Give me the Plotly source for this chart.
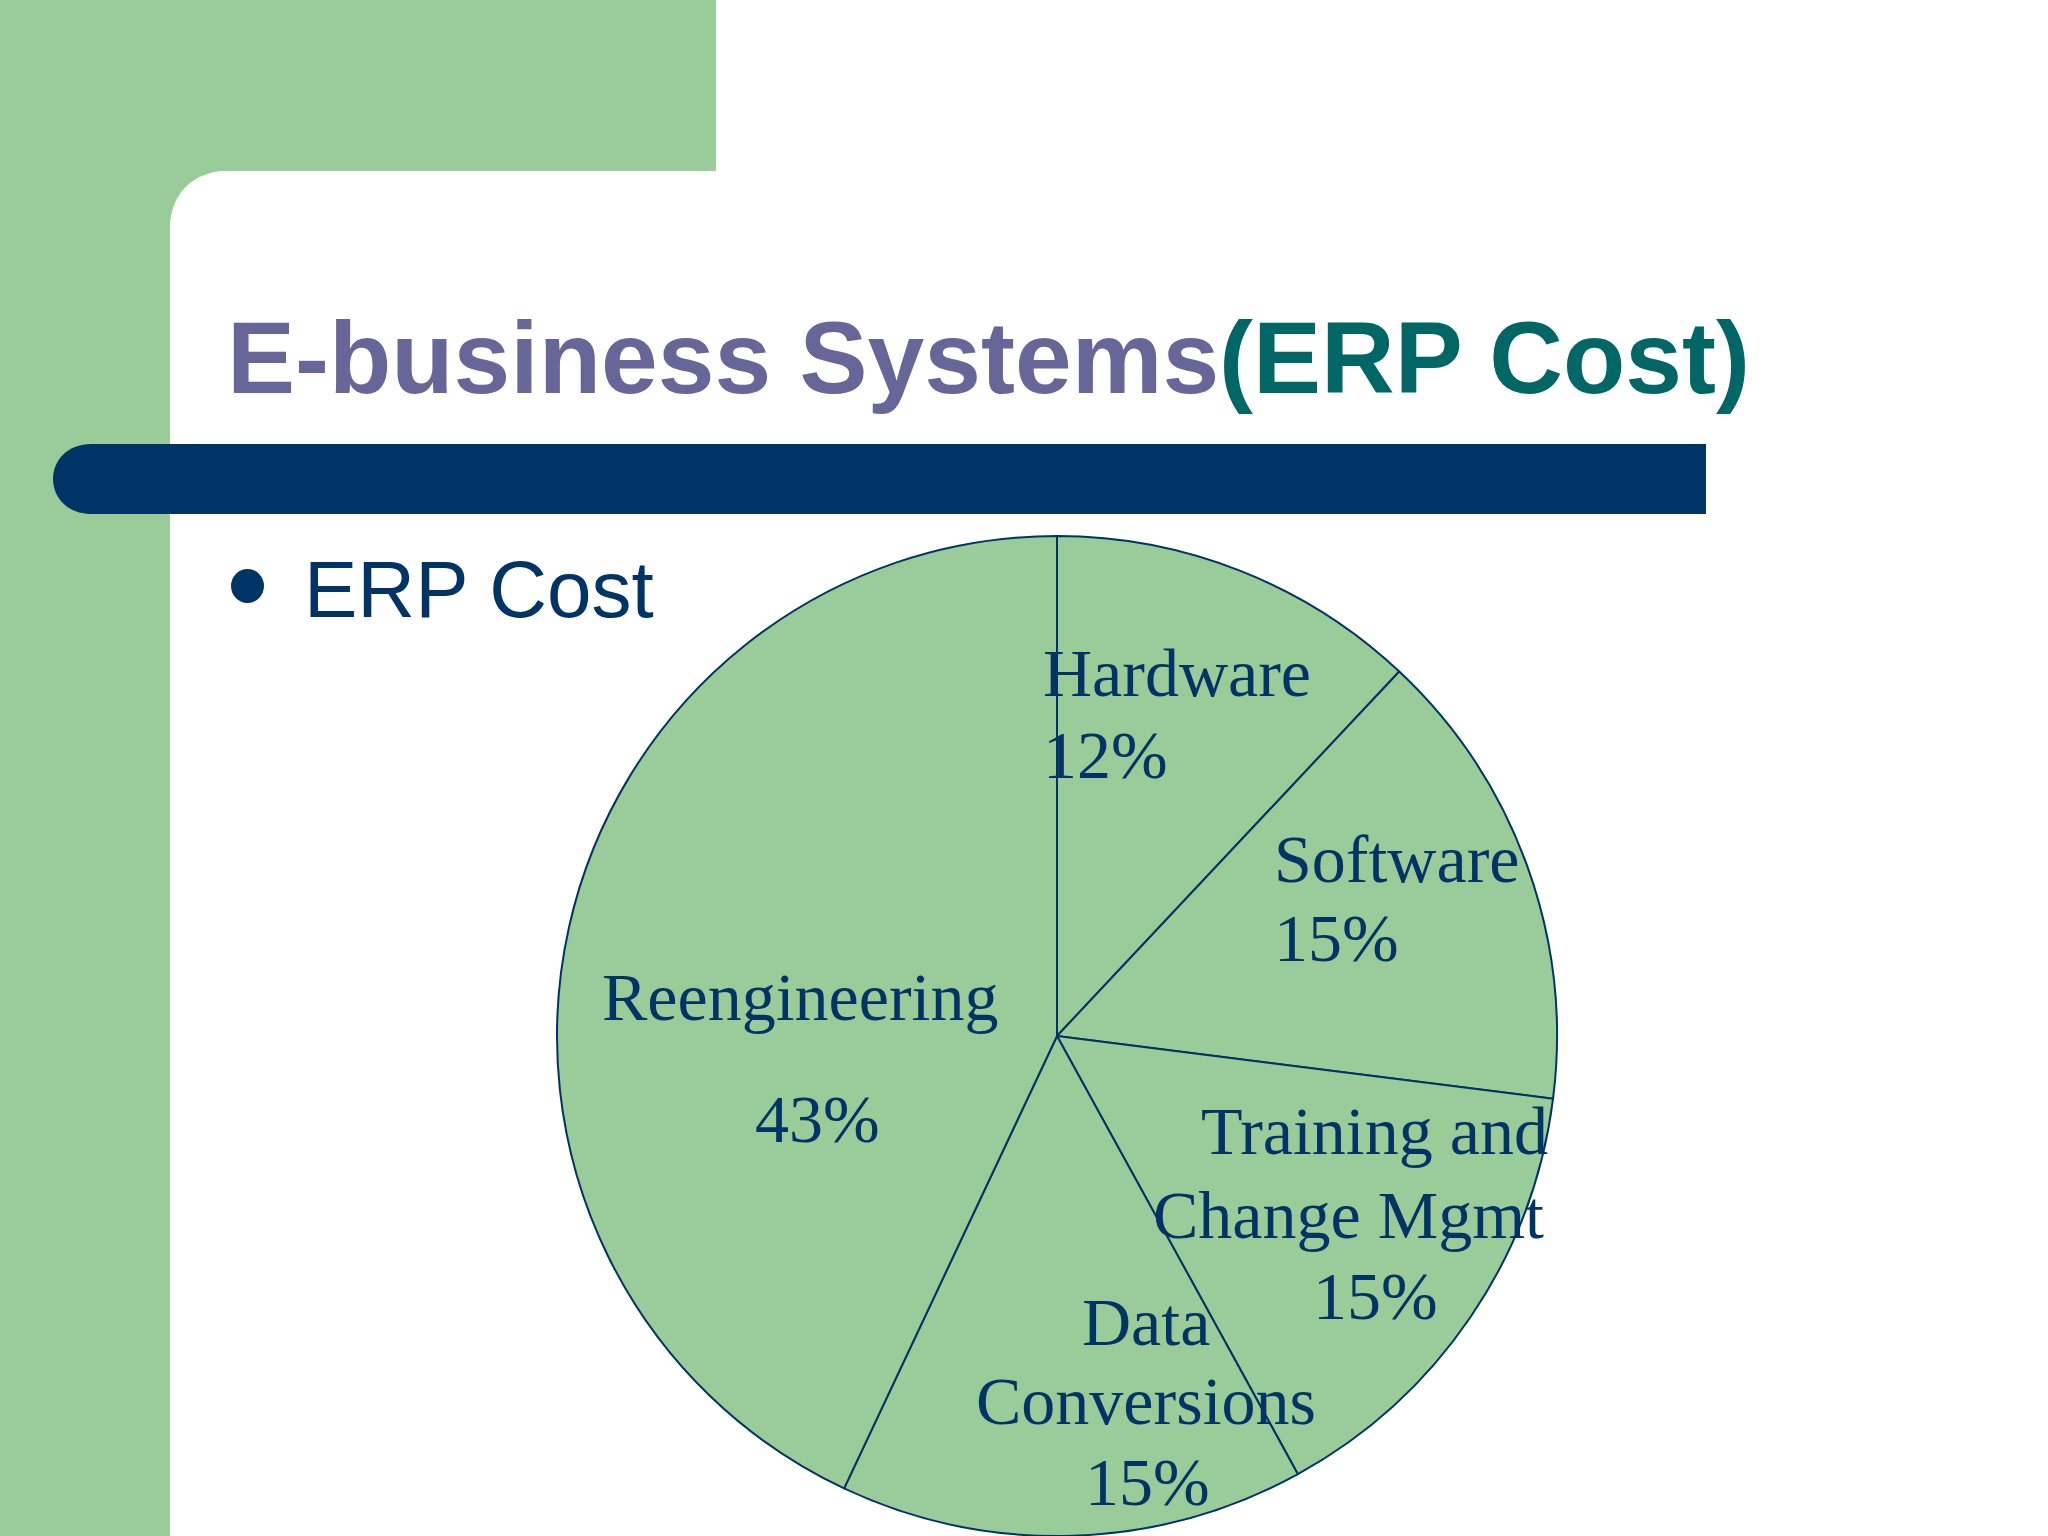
import plotly.graph_objects as go

# ---- data ----
categories = ["Hardware", "Software", "Training and<br>Change Mgmt", "Data<br>Conversions", "Reengineering"]
values = [12, 15, 15, 15, 43]
title_main = "E-business Systems"
title_paren = "(ERP Cost)"
bullet_text = "ERP Cost"

W, H = 2048, 1536
GREEN = "#99CC99"
NAVY = "#003366"
PURPLE = "#666699"
TEAL = "#006666"


def X(px):
    return px / W


def Y(py):
    return 1 - py / H


fig = go.Figure()

fig.add_trace(go.Pie(
    labels=[c.replace("<br>", " ") for c in categories],
    values=values,
    sort=False,
    direction="clockwise",
    rotation=0,
    textinfo="none",
    hoverinfo="label+percent",
    marker=dict(colors=[GREEN] * len(values), line=dict(color=NAVY, width=2)),
    domain=dict(x=[X(557), X(1557)], y=[Y(1536), Y(536)]),
    showlegend=False,
))

shapes = [
    # green left strip and top block
    dict(type="rect", xref="paper", yref="paper", x0=X(0), x1=X(170), y0=Y(1536), y1=Y(0),
         fillcolor=GREEN, line=dict(width=0), layer="below"),
    dict(type="rect", xref="paper", yref="paper", x0=X(0), x1=X(716), y0=Y(171), y1=Y(0),
         fillcolor=GREEN, line=dict(width=0), layer="below"),
    # rounded corner fill
    dict(type="path", xref="paper", yref="paper",
         path=f"M {X(169)} {Y(170)} L {X(236)} {Y(170)} Q {X(169)} {Y(170)} {X(169)} {Y(237)} Z",
         fillcolor=GREEN, line=dict(width=0), layer="below"),
    # navy bar
    dict(type="path", xref="paper", yref="paper",
         path=(f"M {X(92)} {Y(444)} L {X(1706)} {Y(444)} L {X(1706)} {Y(514)} L {X(92)} {Y(514)} "
               f"C {X(40)} {Y(514)} {X(40)} {Y(444)} {X(92)} {Y(444)} Z"),
         fillcolor=NAVY, line=dict(width=0), layer="below"),
    # bullet
    dict(type="circle", xref="paper", yref="paper", x0=X(231), x1=X(264), y0=Y(603), y1=Y(569),
         fillcolor=NAVY, line=dict(width=0), layer="below"),
]

pct = [f"{v}%" for v in values]
label_font = dict(family="Liberation Serif, Times New Roman, serif", size=68, color=NAVY)

annotations = [
    dict(text=f"<b><span style='color:{PURPLE}'>{title_main}</span>"
              f"<span style='color:{TEAL}'>{title_paren}</span></b>",
         x=X(225), y=Y(358), xanchor="left", yanchor="middle", showarrow=False,
         font=dict(family="Liberation Sans, Arial, sans-serif", size=102)),
    dict(text=bullet_text, x=X(302), y=Y(590), xanchor="left", yanchor="middle", showarrow=False,
         font=dict(family="Liberation Sans, Arial, sans-serif", size=80, color=NAVY)),
]

# slice labels, one annotation per line: (slice index, [(x, y, anchor), ...])
label_layout = [
    (0, [(1041, 673, "left"), (1041, 755, "left")]),
    (1, [(1272, 859, "left"), (1272, 938, "left")]),
    (2, [(1374, 1131, "center"), (1348, 1215, "center"), (1375, 1296, "center")]),
    (3, [(1146, 1322, "center"), (1146, 1401, "center"), (1147, 1482, "center")]),
    (4, [(800, 997, "center"), (817, 1119, "center")]),
]
for idx, spots in label_layout:
    lines = categories[idx].split("<br>") + [pct[idx]]
    for line, (lx, ly, anc) in zip(lines, spots):
        annotations.append(dict(text=line, x=X(lx), y=Y(ly), xanchor=anc, yanchor="middle",
                                showarrow=False, font=label_font))

fig.update_layout(
    width=W, height=H,
    margin=dict(l=0, r=0, t=0, b=0),
    paper_bgcolor="white",
    plot_bgcolor="white",
    shapes=shapes,
    annotations=annotations,
)

fig.write_html("out.html", config={"displayModeBar": False},
               post_script="document.body.style.margin='0';")
